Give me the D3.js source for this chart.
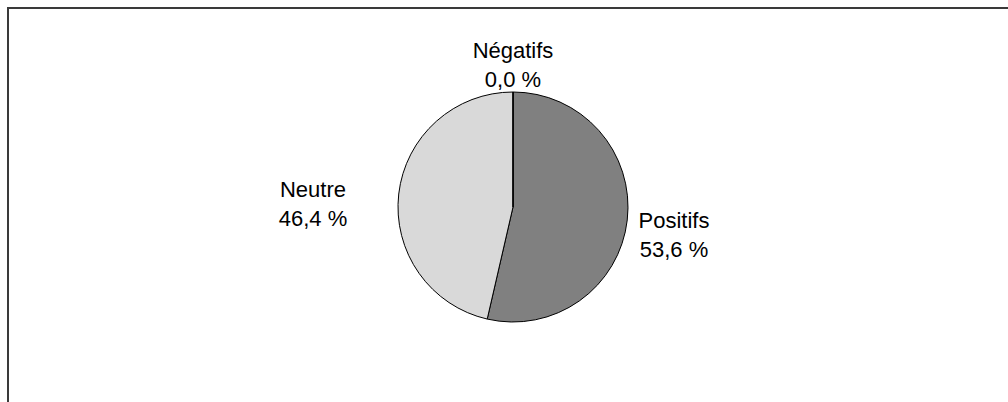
<!DOCTYPE html>
<html>
<head>
<meta charset="utf-8">
<script src="https://cdn.jsdelivr.net/npm/d3@7"></script>
<style>
  html, body { margin: 0; padding: 0; background: #fff; }
  svg { display: block; }
</style>
</head>
<body>
<svg id="chart" width="1008" height="402"></svg>
<script>
// Répartition des avis (en %)
const categories = ["Positifs", "Neutre", "Négatifs"];
const values = [53.6, 46.4, 0.0];
const colors = ["#808080", "#d9d9d9", "#404040"];

// Label anchors: centre x and first-line baseline for each category
const labelAnchors = {
  "Positifs": [674, 228],
  "Neutre": [313, 197],
  "Négatifs": [513, 58]
};

const width = 1008, height = 402;
const cx = 513, cy = 207, radius = 115;
const fontSize = 22, lineGap = 29;

const svg = d3.select("#chart");

// chart frame
svg.append("rect")
  .attr("x", 8).attr("y", 8)
  .attr("width", 1200).attr("height", 600)
  .attr("fill", "none")
  .attr("stroke", "#3a3a3a")
  .attr("stroke-width", 2);

const data = categories.map((c, i) => ({ name: c, value: values[i], color: colors[i] }));

const pie = d3.pie().sort(null).value(d => d.value)
  .startAngle(0).endAngle(2 * Math.PI);
const arc = d3.arc().innerRadius(0).outerRadius(radius);

const g = svg.append("g").attr("transform", `translate(${cx},${cy})`);

g.selectAll("path")
  .data(pie(data))
  .join("path")
  .attr("d", arc)
  .attr("fill", d => d.data.color)
  .attr("stroke", "#000")
  .attr("stroke-width", 1)
  .attr("stroke-linejoin", "round");

const fmt = v => d3.format(".1f")(v).replace(".", ",") + " %";
const total = d3.sum(values);

const labels = svg.append("g")
  .attr("font-family", "'Liberation Sans', Arial, sans-serif")
  .attr("font-size", fontSize)
  .attr("fill", "#000")
  .attr("text-anchor", "middle");

data.forEach(d => {
  const [x, y] = labelAnchors[d.name];
  const t = labels.append("text").attr("x", x).attr("y", y);
  t.append("tspan").attr("x", x).attr("y", y).text(d.name);
  t.append("tspan").attr("x", x).attr("y", y + lineGap).text(fmt(d.value / total * 100));
});
</script>
</body>
</html>
